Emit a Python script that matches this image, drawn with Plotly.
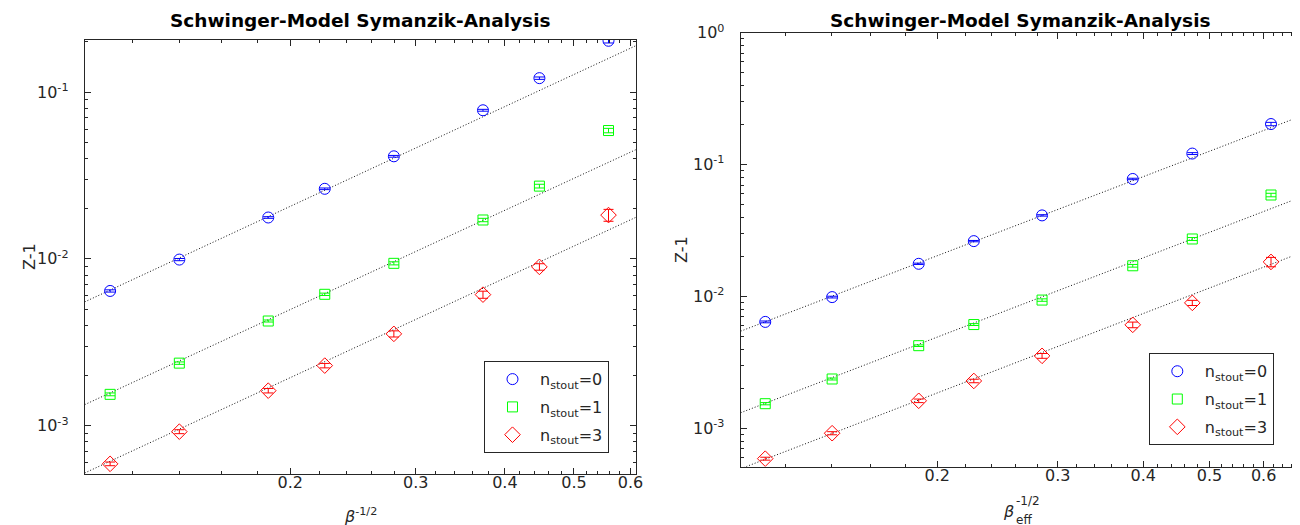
import plotly.graph_objects as go

# ---------------- data ----------------
beta_inv_sqrt = [0.1118, 0.1398, 0.1863, 0.2236, 0.2795, 0.3727, 0.4472, 0.5590]
beta_eff_inv_sqrt = [0.1121, 0.1404, 0.1879, 0.2262, 0.2846, 0.3862, 0.4719, 0.6150]

z1_n0 = [6.42e-3, 9.9e-3, 0.0177, 0.0263, 0.0412, 0.0778, 0.1212, 0.2030]
z1_n1 = [1.54e-3, 2.37e-3, 4.24e-3, 6.13e-3, 9.4e-3, 0.0171, 0.0273, 0.0588]
z1_n3 = [5.9e-4, 9.2e-4, 1.62e-3, 2.29e-3, 3.55e-3, 6.1e-3, 8.95e-3, 0.0183]

err_n0 = [1e-4, 1.5e-4, 2e-4, 3e-4, 5e-4, 1e-3, 2e-3, 6e-3]
err_n1 = [3e-5, 4e-5, 6e-5, 1e-4, 2e-4, 4e-4, 7e-4, 1.8e-3]
err_n3 = [1.5e-5, 2.5e-5, 5e-5, 7e-5, 1.5e-4, 3e-4, 4e-4, 1.5e-3]

# fit lines (straight on log-log), endpoints
fit_x_left = [0.103, 0.611]
fit_n0_left = [5.52e-3, 0.190]
fit_n1_left = [1.336e-3, 0.0452]
fit_n3_left = [5.2e-4, 0.01776]

fit_x_right = [0.1032, 0.6774]
fit_n0_right = [5.46e-3, 0.231]
fit_n1_right = [1.315e-3, 0.0562]
fit_n3_right = [4.95e-4, 0.02129]

series_names = ["n<sub>stout</sub>=0", "n<sub>stout</sub>=1", "n<sub>stout</sub>=3"]
series_colors = ["#0000FF", "#00FF00", "#FF0000"]
series_symbols = ["circle-open", "square-open", "diamond-open"]
series_sizes = [11, 10, 12]

x_ticks = [0.2, 0.3, 0.4, 0.5, 0.6]
x_ticktext = ["0.2", "0.3", "0.4", "0.5", "0.6"]
x_minor = [0.12, 0.14, 0.16, 0.18, 0.22, 0.24, 0.26, 0.28, 0.32, 0.34, 0.36, 0.38,
           0.42, 0.44, 0.46, 0.48, 0.52, 0.54, 0.56, 0.58, 0.62, 0.64, 0.66]
y_ticks_left = [1e-3, 1e-2, 1e-1]
y_ticktext_left = ["10<sup>-3</sup>", "10<sup>-2</sup>", "10<sup>-1</sup>"]
y_ticks_right = [1e-3, 1e-2, 1e-1, 1]
y_ticktext_right = ["10<sup>-3</sup>", "10<sup>-2</sup>", "10<sup>-1</sup>", "10<sup>0</sup>"]
y_minor = [m * d for d in [1e-4, 1e-3, 1e-2, 1e-1] for m in range(2, 10)]

FONT = "DejaVu Sans"
AX = "#262626"

fig = go.Figure()

ys = [z1_n0, z1_n1, z1_n3]
errs = [err_n0, err_n1, err_n3]
fits_left = [fit_n0_left, fit_n1_left, fit_n3_left]
fits_right = [fit_n0_right, fit_n1_right, fit_n3_right]

for panel, (xs, fits, fx, xa, ya, leg) in enumerate([
        (beta_inv_sqrt, fits_left, fit_x_left, "x", "y", "legend"),
        (beta_eff_inv_sqrt, fits_right, fit_x_right, "x2", "y2", "legend2")]):
    for i in range(3):
        fig.add_trace(go.Scatter(
            x=fx, y=fits[i], mode="lines", xaxis=xa, yaxis=ya,
            line=dict(color="#111111", width=1, dash="1px,2px"),
            showlegend=False, hoverinfo="skip"))
    for i in range(3):
        fig.add_trace(go.Scatter(
            x=xs, y=ys[i], mode="markers", xaxis=xa, yaxis=ya,
            name=series_names[i], legend=leg, legendgroup=f"{leg}_{i}",
            marker=dict(symbol=series_symbols[i], size=series_sizes[i],
                        color=series_colors[i], line=dict(width=1, color=series_colors[i])),
            error_y=dict(type="data", array=errs[i], color=series_colors[i],
                         thickness=1, width=5)))

common_x = dict(type="log", tickmode="array", tickvals=x_ticks, ticktext=x_ticktext,
                ticks="inside", ticklen=6, tickcolor=AX, tickwidth=1,
                showline=True, linecolor=AX, linewidth=1, mirror="ticks",
                showgrid=False, zeroline=False, automargin=False,
                ticklabelstandoff=-6,
                tickfont=dict(family=FONT, size=16, color=AX),
                minor=dict(tickmode="array", tickvals=x_minor, ticks="inside",
                           ticklen=3, tickcolor=AX, tickwidth=1, showgrid=False))
common_y = dict(type="log", tickmode="array",
                ticks="inside", ticklen=6, tickcolor=AX, tickwidth=1,
                showline=True, linecolor=AX, linewidth=1, mirror="ticks",
                showgrid=False, zeroline=False, automargin=False,
                ticklabelstandoff=12,
                tickfont=dict(family=FONT, size=16, color=AX),
                minor=dict(tickmode="array", tickvals=y_minor, ticks="inside",
                           ticklen=3, tickcolor=AX, tickwidth=1, showgrid=False))

legend_common = dict(bordercolor=AX, borderwidth=1, bgcolor="white",
                     font=dict(family=FONT, size=16, color=AX),
                     traceorder="grouped", tracegroupgap=4, itemwidth=45)

fig.update_layout(
    width=1300, height=525,
    margin=dict(l=0, r=0, t=0, b=0, autoexpand=False),
    paper_bgcolor="white", plot_bgcolor="white",
    font=dict(family=FONT, color=AX),
    xaxis=dict(common_x, domain=[0.0590, 0.4831], range=[-0.9872, -0.2140], anchor="y"),
    yaxis=dict(common_y, domain=[0.1124, 0.9396], range=[-3.29, -0.686],
               tickvals=y_ticks_left, ticktext=y_ticktext_left, anchor="x"),
    xaxis2=dict(common_x, domain=[0.5636, 0.9936], range=[-0.9863, -0.1692], anchor="y2"),
    yaxis2=dict(common_y, domain=[0.1263, 0.9530], range=[-3.29, 0.0],
                tickvals=y_ticks_right, ticktext=y_ticktext_right, anchor="x2"),
    legend=dict(legend_common, x=0.4623, y=0.152, xanchor="right", yanchor="bottom"),
    legend2=dict(legend_common, x=0.9737, y=0.167, xanchor="right", yanchor="bottom"),
    showlegend=True,
)

title = "<b>Schwinger-Model Symanzik-Analysis</b>"
ann = [
    dict(text=title, x=352 / 1300, y=1 - 12 / 525, xref="paper", yref="paper",
         showarrow=False, font=dict(family=FONT, size=18.5, color="black"),
         xanchor="center", yanchor="middle"),
    dict(text=title, x=1012 / 1300, y=1 - 12 / 525, xref="paper", yref="paper",
         showarrow=False, font=dict(family=FONT, size=18.5, color="black"),
         xanchor="center", yanchor="middle"),
    dict(text="Z-1", x=21 / 1300, y=1 - 249 / 525, xref="paper", yref="paper",
         textangle=-90, showarrow=False, font=dict(family=FONT, size=16, color=AX),
         xanchor="center", yanchor="middle"),
    dict(text="Z-1", x=673 / 1300, y=1 - 242 / 525, xref="paper", yref="paper",
         textangle=-90, showarrow=False, font=dict(family=FONT, size=16, color=AX),
         xanchor="center", yanchor="middle"),
    dict(text="<i>β</i><sup>-1/2</sup>", x=352 / 1300, y=1 - 507 / 525, xref="paper", yref="paper",
         showarrow=False, font=dict(family=FONT, size=16, color=AX),
         xanchor="center", yanchor="middle"),
    dict(text="<i>β</i>", x=1000 / 1300, y=1 - 503 / 525, xref="paper", yref="paper",
         showarrow=False, font=dict(family=FONT, size=16, color=AX),
         xanchor="center", yanchor="middle"),
    dict(text="-1/2", x=1006 / 1300, y=1 - 493 / 525, xref="paper", yref="paper",
         showarrow=False, font=dict(family=FONT, size=12, color=AX),
         xanchor="left", yanchor="middle"),
    dict(text="eff", x=1006 / 1300, y=1 - 512 / 525, xref="paper", yref="paper",
         showarrow=False, font=dict(family=FONT, size=12, color=AX),
         xanchor="left", yanchor="middle"),
]
fig.update_layout(annotations=ann)

fig.write_html("out.html")
